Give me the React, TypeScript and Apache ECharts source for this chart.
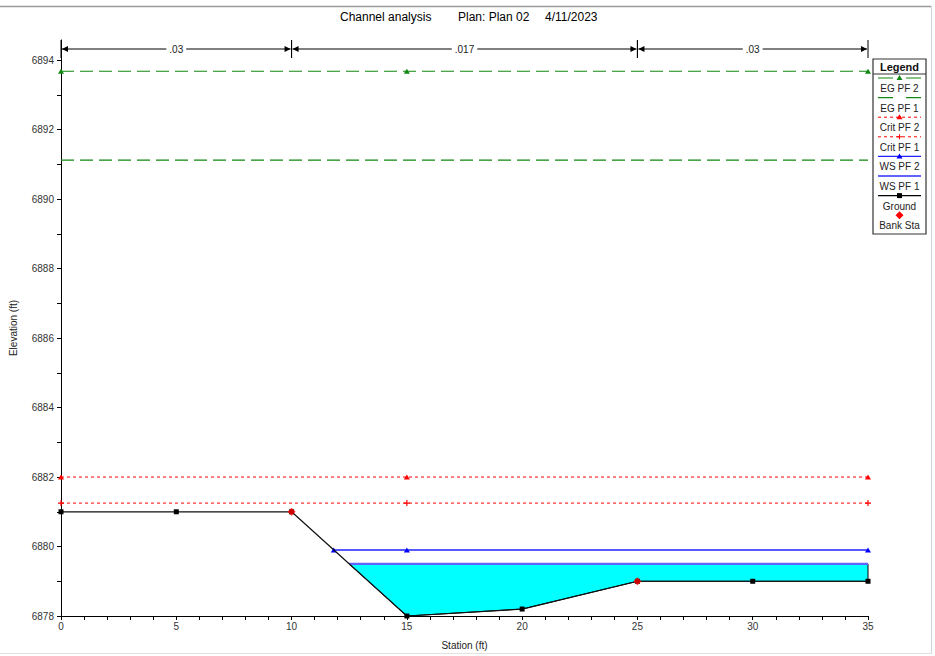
import React, { useEffect, useRef } from 'react';
import * as echarts from 'echarts';

// ---- data ----
const titleParts = ['Channel analysis', 'Plan: Plan 02', '4/11/2023'];
const xLabelValues = [0, 5, 10, 15, 20, 25, 30, 35];
const yLabelValues = [6878, 6880, 6882, 6884, 6886, 6888, 6890, 6892, 6894];
const yMin = 6878;
const yMax = 6894.58;

const groundX = [0, 5, 10, 15, 20, 25, 30, 35];
const groundY = [6881, 6881, 6881, 6878, 6878.2, 6879, 6879, 6879];
const bankX = [10, 25];
const bankY = [6881, 6879];

const profileX = [0, 15, 35];
const egPF2 = 6893.68;
const egPF1 = 6891.12;
const critPF2 = 6882.0;
const critPF1 = 6881.25;
const wsPF2X = [11.83, 15, 35];
const wsPF2 = 6879.9;
const wsPF1X = [12.5, 35];
const wsPF1 = 6879.5;

const nStations = [0, 10, 25, 35];
const nValues = ['.03', '.017', '.03'];

const legendNames = ['EG PF 2', 'EG PF 1', 'Crit PF 2', 'Crit PF 1', 'WS PF 2', 'WS PF 1', 'Ground', 'Bank Sta'];

const FONT = "'Liberation Sans', Arial, sans-serif";
const GREEN = '#118811';
const RED = '#ff0000';
const BLUE = '#2222ff';
const BLUE_LIGHT = '#6262ff';
const PLUS = 'path://M2,0H3V2H5V3H3V5H2V3H0V2H2Z';

const pairs = (xs: number[], y: number | number[]) =>
  xs.map((x, i) => [x, Array.isArray(y) ? y[i] : y]);

export default function App() {
  const ref = useRef<HTMLDivElement>(null);

  useEffect(() => {
    if (!ref.current) return;
    const chart = echarts.init(ref.current, null, { renderer: 'svg' });

    const groundPts = pairs(groundX, groundY);
    const fillPolygon = [
      [wsPF1X[0], wsPF1],
      [wsPF1X[wsPF1X.length - 1], wsPF1],
      ...groundPts.filter((p) => p[0] > wsPF1X[0]).reverse(),
    ];
    const segments = nValues.map((_, i) => [nStations[i], nStations[i + 1], i]);

    // legend graphic
    const lx0 = 878, lx1 = 921, lcx = 899.5;
    const legendItems: any[] = [
      { type: 'rect', shape: { x: 873, y: 59, width: 53, height: 175 }, style: { fill: '#fff', stroke: '#333', lineWidth: 1.2 } },
      { type: 'text', style: { text: 'Legend', x: lcx, y: 66.5, align: 'center', verticalAlign: 'middle', font: `bold 11px ${FONT}`, fill: '#111' } },
      { type: 'line', shape: { x1: 873, y1: 74, x2: 926, y2: 74 }, style: { stroke: '#333', lineWidth: 1 } },
    ];
    const tri = (cx: number, cy: number, color: string) => ({
      type: 'polygon', shape: { points: [[cx, cy - 3], [cx + 3, cy + 2], [cx - 3, cy + 2]] }, style: { fill: color },
    });
    legendNames.forEach((name, i) => {
      const sy = 78 + i * 19.6;
      const ty = 88.5 + i * 19.6;
      legendItems.push({ type: 'text', style: { text: name, x: lcx, y: ty, align: 'center', verticalAlign: 'middle', font: `10px ${FONT}`, fill: '#222' } });
      const line = (stroke: string, lineWidth: number, lineDash?: number[]) => ({
        type: 'line', shape: { x1: lx0, y1: sy, x2: lx1, y2: sy }, style: { stroke, lineWidth, lineDash },
      });
      if (i === 0) { legendItems.push(line(GREEN, 1.2, [15, 13]), tri(lcx, sy, GREEN)); }
      if (i === 1) { legendItems.push(line(GREEN, 1.2, [15, 13])); }
      if (i === 2) { legendItems.push(line(RED, 1, [3, 3]), tri(lcx, sy, RED)); }
      if (i === 3) {
        legendItems.push(line(RED, 1, [3, 3]),
          { type: 'line', shape: { x1: lcx, y1: sy - 2.5, x2: lcx, y2: sy + 2.5 }, style: { stroke: RED, lineWidth: 1 } },
          { type: 'line', shape: { x1: lcx - 2.5, y1: sy, x2: lcx + 2.5, y2: sy }, style: { stroke: RED, lineWidth: 1 } });
      }
      if (i === 4) { legendItems.push(line(BLUE, 1.3), tri(lcx, sy, '#0000ff')); }
      if (i === 5) { legendItems.push(line(BLUE_LIGHT, 2.2)); }
      if (i === 6) { legendItems.push(line('#000', 1.2), { type: 'rect', shape: { x: lcx - 2.5, y: sy - 2.5, width: 5, height: 5 }, style: { fill: '#000' } }); }
      if (i === 7) { legendItems.push({ type: 'polygon', shape: { points: [[lcx, sy - 4], [lcx + 4, sy], [lcx, sy + 4], [lcx - 4, sy]] }, style: { fill: RED } }); }
    });

    const option: any = {
      animation: false,
      backgroundColor: '#fff',
      grid: { left: 60, right: 67, top: 40, bottom: 40, containLabel: false },
      xAxis: {
        type: 'value', min: 0, max: 35, interval: 1,
        name: 'Station (ft)', nameLocation: 'middle', nameGap: 24,
        nameTextStyle: { fontSize: 10, fontFamily: FONT, color: '#222' },
        axisLine: { show: true, onZero: false, lineStyle: { color: '#000', width: 1 } },
        axisTick: { show: true, length: 4, inside: false, lineStyle: { color: '#000' } },
        axisLabel: { customValues: xLabelValues, formatter: (v: number) => String(v), fontSize: 10, fontFamily: FONT, color: '#333', margin: 5 },
        splitLine: { show: false },
      },
      yAxis: {
        type: 'value', min: yMin, max: yMax, interval: 1,
        name: 'Elevation (ft)', nameLocation: 'middle', nameGap: 43, nameRotate: 90,
        nameTextStyle: { fontSize: 10, fontFamily: FONT, color: '#222' },
        axisLine: { show: true, onZero: false, lineStyle: { color: '#000', width: 1 } },
        axisTick: { show: true, length: 4, customValues: yLabelValues.flatMap((v) => (v < 6894 ? [v, v + 1] : [v])), lineStyle: { color: '#000' } },
        axisLabel: { customValues: yLabelValues, formatter: (v: number) => String(v), fontSize: 10, fontFamily: FONT, color: '#333', margin: 7 },
        splitLine: { show: false },
      },
      graphic: [
        { type: 'line', shape: { x1: 0, y1: 6.5, x2: 931, y2: 6.5 }, style: { stroke: '#9a9a9a', lineWidth: 1.5 } },
        { type: 'line', shape: { x1: 931.5, y1: 6, x2: 931.5, y2: 654 }, style: { stroke: '#d6d6d6', lineWidth: 1 } },
        { type: 'line', shape: { x1: 0, y1: 653.5, x2: 931, y2: 653.5 }, style: { stroke: '#e2e2e2', lineWidth: 1 } },
        { type: 'text', style: { text: titleParts[0], x: 340, y: 17, verticalAlign: 'middle', font: `12px ${FONT}`, fill: '#000' } },
        { type: 'text', style: { text: titleParts[1], x: 458, y: 17, verticalAlign: 'middle', font: `12px ${FONT}`, fill: '#000' } },
        { type: 'text', style: { text: titleParts[2], x: 545, y: 17, verticalAlign: 'middle', font: `12px ${FONT}`, fill: '#000' } },
        ...legendItems,
      ],
      series: [
        {
          type: 'custom', name: 'fill', z: 1, silent: true,
          data: [fillPolygon[0]],
          renderItem: (params: any, api: any) => ({
            type: 'polygon',
            shape: { points: fillPolygon.map((p) => api.coord(p)) },
            style: { fill: '#00ffff', stroke: '#000', lineWidth: 1 },
          }),
        },
        {
          type: 'line', name: 'Ground', z: 4, data: groundPts, clip: false,
          symbol: 'rect', symbolSize: 5, itemStyle: { color: '#000' },
          lineStyle: { color: '#111', width: 1.2 },
        },
        {
          type: 'line', name: 'WS PF 1', z: 3, data: pairs(wsPF1X, wsPF1), clip: false,
          symbol: 'none', lineStyle: { color: BLUE_LIGHT, width: 2.2 },
        },
        {
          type: 'line', name: 'WS PF 2', z: 3, data: pairs(wsPF2X, wsPF2), clip: false,
          symbol: 'triangle', symbolSize: [6, 5], itemStyle: { color: '#0000ff' },
          lineStyle: { color: BLUE, width: 1.3 },
        },
        {
          type: 'line', name: 'Crit PF 1', z: 3, data: pairs(profileX, critPF1), clip: false,
          symbol: PLUS, symbolSize: 6, itemStyle: { color: RED },
          lineStyle: { color: RED, width: 1, type: [3, 3] },
        },
        {
          type: 'line', name: 'Crit PF 2', z: 3, data: pairs(profileX, critPF2), clip: false,
          symbol: 'triangle', symbolSize: [6, 5], itemStyle: { color: RED },
          lineStyle: { color: RED, width: 1, type: [3, 3] },
        },
        {
          type: 'line', name: 'EG PF 1', z: 3, data: pairs(profileX, egPF1), clip: false,
          symbol: 'none', lineStyle: { color: GREEN, width: 1.2, type: [13, 6] },
        },
        {
          type: 'line', name: 'EG PF 2', z: 3, data: pairs(profileX, egPF2), clip: false,
          symbol: 'triangle', symbolSize: [6, 5], itemStyle: { color: GREEN },
          lineStyle: { color: GREEN, width: 1.2, type: [13, 6] },
        },
        {
          type: 'scatter', name: 'Bank Sta', z: 5, data: pairs(bankX, bankY), clip: false,
          symbol: 'diamond', symbolSize: 8, itemStyle: { color: RED },
        },
        {
          type: 'custom', name: 'n values', z: 6, silent: true, clip: false,
          data: segments,
          renderItem: (params: any, api: any) => {
            const cs = params.coordSys;
            const xa = api.coord([api.value(0), yMin])[0];
            const xb = api.coord([api.value(1), yMin])[0];
            const label = nValues[api.value(2)];
            const top = cs.y;
            const my = top + 9;
            const c = '#000';
            return {
              type: 'group',
              children: [
                { type: 'line', shape: { x1: xa, y1: top, x2: xa, y2: top + 18 }, style: { stroke: c, lineWidth: 1 } },
                { type: 'line', shape: { x1: xb, y1: top, x2: xb, y2: top + 18 }, style: { stroke: c, lineWidth: 1 } },
                { type: 'line', shape: { x1: xa + 1, y1: my, x2: xb - 1, y2: my }, style: { stroke: c, lineWidth: 1 } },
                { type: 'polygon', shape: { points: [[xa + 1, my], [xa + 7, my - 3], [xa + 7, my + 3]] }, style: { fill: c } },
                { type: 'polygon', shape: { points: [[xb - 1, my], [xb - 7, my - 3], [xb - 7, my + 3]] }, style: { fill: c } },
                {
                  type: 'text',
                  style: {
                    text: label, x: (xa + xb) / 2, y: my, align: 'center', verticalAlign: 'middle',
                    font: `10px ${FONT}`, fill: '#222', backgroundColor: '#fff', padding: [1, 3],
                  },
                },
              ],
            };
          },
        },
      ],
    };

    chart.setOption(option);
    return () => chart.dispose();
  }, []);

  return <div ref={ref} style={{ position: 'fixed', left: 0, top: 0, width: 935, height: 656 }} />;
}
